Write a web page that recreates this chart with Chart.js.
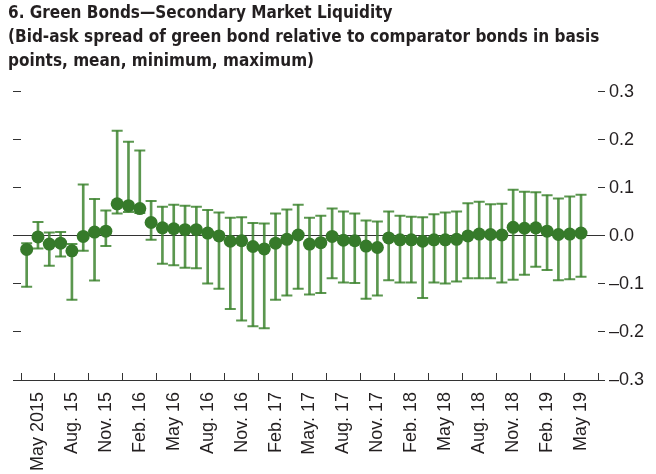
<!DOCTYPE html>
<html>
<head>
<meta charset="utf-8">
<script src="https://cdn.jsdelivr.net/npm/chart.js@4.4.1/dist/chart.umd.min.js"></script>
<style>
  html, body { margin: 0; padding: 0; background: #fff; }
  #wrap { width: 656px; height: 474px; }
</style>
</head>
<body>
<div id="wrap"><canvas id="myChart" width="656" height="474"></canvas></div>
<script>
// months Apr 2015 .. Jun 2019 (last month has no data)
let months = [];
let monthNames = ['Jan', 'Feb', 'Mar', 'Apr', 'May', 'Jun', 'Jul', 'Aug', 'Sep', 'Oct', 'Nov', 'Dec'];
for (let i = 0; i < 51; i++) {
  let m = (3 + i) % 12;
  let y = 2015 + Math.floor((3 + i) / 12);
  months.push(monthNames[m] + ' ' + y);
}

let xTickLabels = ['May 2015', 'Aug. 15', 'Nov. 15', 'Feb. 16', 'May 16', 'Aug. 16', 'Nov. 16', 'Feb. 17',
  'May. 17', 'Aug. 17', 'Nov. 17', 'Feb. 18', 'May 18', 'Aug. 18', 'Nov. 18', 'Feb. 19', 'May 19'];

let meanValues = [-0.028, -0.002, -0.017, -0.015, -0.031, -0.001, 0.008, 0.010, 0.067, 0.063,
  0.057, 0.028, 0.017, 0.015, 0.013, 0.013, 0.006, 0.000, -0.011, -0.010,
  -0.022, -0.027, -0.015, -0.007, 0.002, -0.017, -0.014, -0.001, -0.009, -0.010,
  -0.021, -0.024, -0.004, -0.008, -0.008, -0.011, -0.008, -0.008, -0.007, 0.000,
  0.004, 0.003, 0.002, 0.018, 0.016, 0.017, 0.010, 0.003, 0.004, 0.006, null];

let maxValues = [-0.015, 0.029, 0.007, 0.008, -0.017, 0.107, 0.077, 0.053, 0.219, 0.196,
  0.178, 0.073, 0.061, 0.065, 0.063, 0.061, 0.054, 0.049, 0.038, 0.039,
  0.027, 0.026, 0.047, 0.055, 0.065, 0.038, 0.042, 0.057, 0.051, 0.047,
  0.032, 0.030, 0.051, 0.042, 0.040, 0.039, 0.045, 0.049, 0.051, 0.068,
  0.071, 0.066, 0.067, 0.096, 0.092, 0.091, 0.085, 0.078, 0.082, 0.086, null];

let minValues = [-0.106, -0.026, -0.062, -0.043, -0.133, -0.031, -0.093, -0.021, 0.047, 0.050,
  0.048, -0.008, -0.058, -0.061, -0.066, -0.067, -0.099, -0.110, -0.152, -0.176,
  -0.188, -0.192, -0.133, -0.124, -0.110, -0.122, -0.119, -0.088, -0.097, -0.098,
  -0.131, -0.124, -0.092, -0.097, -0.097, -0.129, -0.097, -0.099, -0.095, -0.088,
  -0.088, -0.088, -0.097, -0.091, -0.081, -0.064, -0.071, -0.092, -0.090, -0.085, null];

let dotColor = '#367a2a';
let whiskerColor = 'rgba(62,133,48,0.85)';
let inkColor = '#231f20';
let fontFamily = "'Liberation Sans', Arial, sans-serif";
let titleFamily = "'DejaVu Sans Condensed', 'Liberation Sans Narrow', sans-serif";

let ranges = minValues.map((v, i) => v === null ? null : [v, maxValues[i]]);

let ctx = document.getElementById('myChart').getContext('2d');

let chart = new Chart(ctx, {
  type: 'bar',
  data: {
    labels: months,
    datasets: [
      {
        type: 'line',
        label: 'Mean',
        data: meanValues,
        showLine: false,
        pointRadius: 6.5,
        pointBackgroundColor: dotColor,
        pointBorderColor: dotColor,
        pointBorderWidth: 0,
        order: 0
      },
      {
        type: 'line',
        label: 'Maximum',
        data: maxValues,
        showLine: false,
        pointStyle: 'line',
        pointRadius: 5.5,
        pointBorderColor: whiskerColor,
        pointBorderWidth: 2,
        order: 1
      },
      {
        type: 'line',
        label: 'Minimum',
        data: minValues,
        showLine: false,
        pointStyle: 'line',
        pointRadius: 5.5,
        pointBorderColor: whiskerColor,
        pointBorderWidth: 2,
        order: 1
      },
      {
        label: 'Range',
        data: ranges,
        backgroundColor: whiskerColor,
        borderWidth: 0,
        barThickness: 2,
        order: 2
      }
    ]
  },
  options: {
    responsive: false,
    animation: false,
    layout: { padding: { left: 8 } },
    plugins: {
      legend: { display: false },
      tooltip: { enabled: false },
      title: {
        display: true,
        align: 'start',
        text: ['6. Green Bonds\u2014Secondary Market Liquidity',
               '(Bid-ask spread of green bond relative to comparator bonds in basis',
               'points, mean, minimum, maximum)'],
        color: inkColor,
        font: { family: titleFamily, size: 17, weight: 'bold', lineHeight: 1.41 },
        padding: { top: 2, bottom: 18 }
      }
    },
    scales: {
      x: {
        offset: true,
        border: { display: true, color: '#333', width: 1 },
        grid: {
          offset: true,
          drawOnChartArea: false,
          tickLength: -7,
          tickWidth: 1,
          tickColor: (c) => (c.index === undefined || c.index % 3 === 0) ? '#333' : 'rgba(0,0,0,0)'
        },
        ticks: {
          autoSkip: false,
          minRotation: 90,
          maxRotation: 90,
          padding: 19,
          color: inkColor,
          font: { family: fontFamily, size: 18 },
          callback: (v, i) => i % 3 === 1 ? xTickLabels[(i - 1) / 3] : ''
        },
        afterFit: (s) => { s.height = 94; }
      },
      y: {
        position: 'left',
        min: -0.3,
        max: 0.3,
        border: { display: false },
        grid: {
          color: (c) => (c.tick && Math.abs(c.tick.value) < 1e-9) ? '#333' : 'rgba(0,0,0,0)',
          tickColor: '#333',
          tickLength: 8,
          lineWidth: 1
        },
        ticks: { display: false, stepSize: 0.1 },
        afterFit: (s) => { s.width = 13; }
      },
      y2: {
        position: 'right',
        min: -0.3,
        max: 0.3,
        border: { display: false },
        grid: { drawOnChartArea: false, tickColor: '#333', tickLength: 7 },
        ticks: {
          stepSize: 0.1,
          padding: 4,
          color: inkColor,
          font: { family: fontFamily, size: 18 },
          callback: (v) => Math.abs(v) < 1e-9 ? '0.0' : v.toFixed(1).replace('-', '\u2013')
        },
        afterFit: (s) => { s.width = 58; }
      }
    }
  }
});
</script>
</body>
</html>
